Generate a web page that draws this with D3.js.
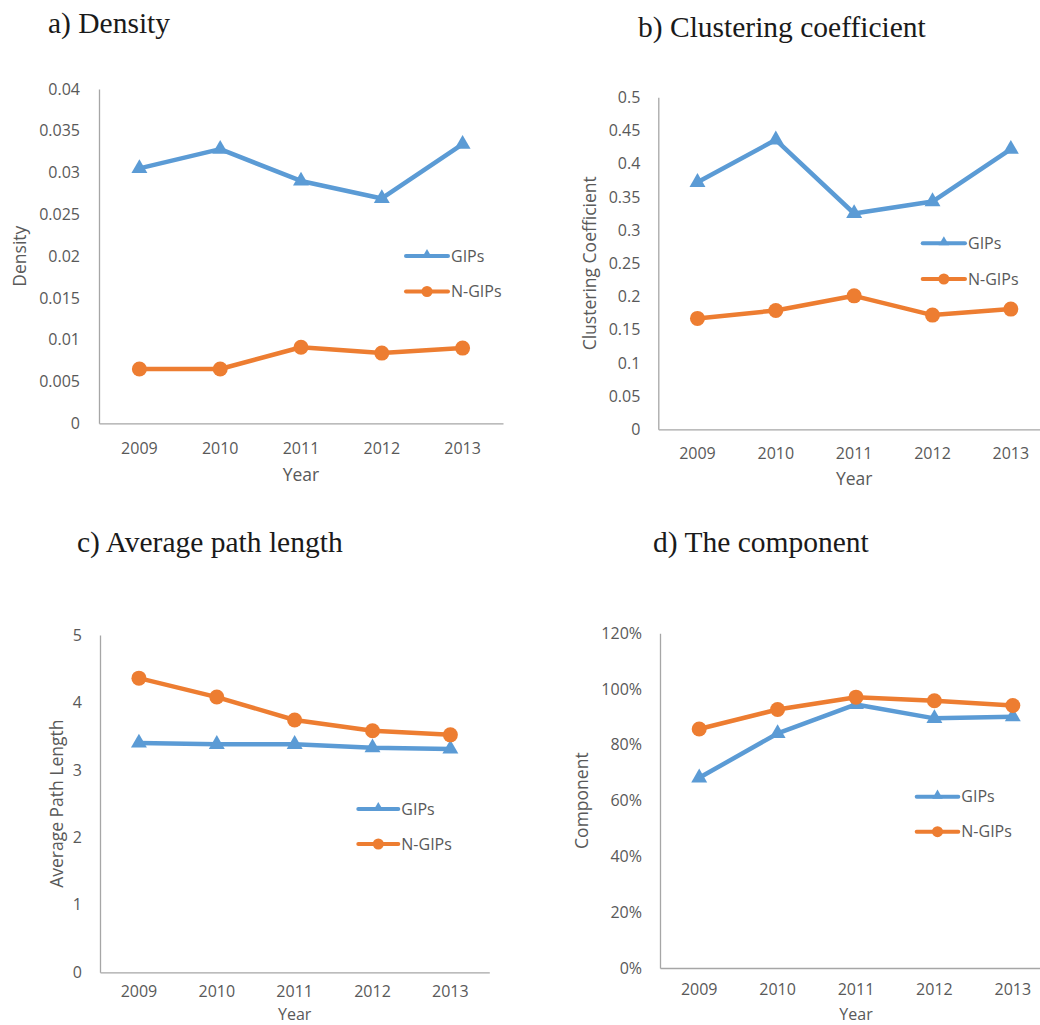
<!DOCTYPE html>
<html>
<head>
<meta charset="utf-8">
<script src="https://cdn.jsdelivr.net/npm/d3@7"></script>
<style>
  html, body { margin: 0; padding: 0; background: #fff; }
  svg { display: block; }
</style>
</head>
<body>
<svg id="chart" width="1040" height="1025"></svg>
<script>
// ---------- DATA ----------
const years = ["2009", "2010", "2011", "2012", "2013"];
const seriesNames = ["GIPs", "N-GIPs"];

const densityGIPs  = [0.0305, 0.0328, 0.0290, 0.0269, 0.0334];
const densityNGIPs = [0.0065, 0.0065, 0.0091, 0.0084, 0.0090];
const densityTicks = [0, 0.005, 0.01, 0.015, 0.02, 0.025, 0.03, 0.035, 0.04];
const densityTickLabels = ["0", "0.005", "0.01", "0.015", "0.02", "0.025", "0.03", "0.035", "0.04"];

const clusteringGIPs  = [0.372, 0.436, 0.325, 0.343, 0.422];
const clusteringNGIPs = [0.167, 0.179, 0.201, 0.172, 0.181];
const clusteringTicks = [0, 0.05, 0.1, 0.15, 0.2, 0.25, 0.3, 0.35, 0.4, 0.45, 0.5];
const clusteringTickLabels = ["0", "0.05", "0.1", "0.15", "0.2", "0.25", "0.3", "0.35", "0.4", "0.45", "0.5"];

const pathGIPs  = [3.40, 3.38, 3.38, 3.33, 3.31];
const pathNGIPs = [4.36, 4.08, 3.74, 3.58, 3.52];
const pathTicks = [0, 1, 2, 3, 4, 5];
const pathTickLabels = ["0", "1", "2", "3", "4", "5"];

const componentGIPs  = [0.682, 0.841, 0.945, 0.895, 0.901];
const componentNGIPs = [0.857, 0.927, 0.971, 0.958, 0.941];
const componentTicks = [0, 0.2, 0.4, 0.6, 0.8, 1.0, 1.2];
const componentTickLabels = ["0%", "20%", "40%", "60%", "80%", "100%", "120%"];

const titles = ["a) Density", "b) Clustering coefficient", "c) Average path length", "d) The component"];
const yTitles = ["Density", "Clustering Coefficient", "Average Path Length", "Component"];
const xTitle = "Year";

// ---------- STYLE / LAYOUT ----------
const colors = { "GIPs": "#5B9BD5", "N-GIPs": "#ED7D31" };
const textColor = "#595959";
const axisColor = "#A6A6A6";
const tickFont = "'Open Sans', sans-serif";
const titleFont = "'Liberation Serif', 'Times New Roman', serif";

const panels = [
  { gips: densityGIPs, ngips: densityNGIPs, ticks: densityTicks, labels: densityTickLabels,
    left: 99, right: 503, top: 89, bottom: 423.3,
    title: [48, 33], yTitleX: 20, yPad: 19, xPad: 19, xTitleY: 481, xTitleSize: 17.5,
    legX: [406, 448], legY: [256, 291.5] },
  { gips: clusteringGIPs, ngips: clusteringNGIPs, ticks: clusteringTicks, labels: clusteringTickLabels,
    left: 658.3, right: 1050, top: 97.3, bottom: 429.3,
    title: [638, 37], yTitleX: 590, yPad: 18, xPad: 18, xTitleY: 485, xTitleSize: 17.5,
    legX: [922.7, 965], legY: [243.3, 279] },
  { gips: pathGIPs, ngips: pathNGIPs, ticks: pathTicks, labels: pathTickLabels,
    left: 100, right: 489.3, top: 635, bottom: 972.3,
    title: [77, 552], yTitleX: 56.7, yPad: 18, xPad: 13.5, xTitleY: 1020.3, xTitleSize: 16,
    legX: [358.3, 398.3], legY: [809, 844] },
  { gips: componentGIPs, ngips: componentNGIPs, ticks: componentTicks, labels: componentTickLabels,
    left: 660, right: 1052, top: 633.3, bottom: 968,
    title: [653, 552], yTitleX: 581.7, yPad: 18, xPad: 15.5, xTitleY: 1020.3, xTitleSize: 16,
    legX: [916.7, 958.3], legY: [796.7, 831.7] }
];

const svg = d3.select("#chart");
const tri = d3.symbol().type(d3.symbolTriangle).size(110);
const triLeg = d3.symbol().type(d3.symbolTriangle).size(48);

panels.forEach((p, i) => {
  const g = svg.append("g");
  const x = d3.scaleBand().domain(years).range([p.left, p.right]);
  const yMax = p.ticks[p.ticks.length - 1];
  const y = d3.scaleLinear().domain([0, yMax]).range([p.bottom, p.top]);

  // title
  g.append("text")
    .attr("x", p.title[0]).attr("y", p.title[1])
    .attr("font-family", titleFont).attr("font-size", 29.5)
    .attr("fill", "#1a1a1a")
    .text(titles[i]);

  // y axis
  const yAxis = d3.axisLeft(y).tickValues(p.ticks)
    .tickFormat((d, k) => p.labels[k]).tickSize(0).tickPadding(p.yPad);
  const ya = g.append("g").attr("transform", `translate(${p.left},0)`).call(yAxis);
  ya.select(".domain").attr("stroke", axisColor).attr("stroke-width", 1.3);
  ya.selectAll("text").attr("font-family", tickFont).attr("font-size", 16).attr("fill", textColor);

  // x axis
  const xAxis = d3.axisBottom(x).tickSize(0).tickPadding(p.xPad);
  const xa = g.append("g").attr("transform", `translate(0,${p.bottom})`).call(xAxis);
  xa.select(".domain").attr("stroke", axisColor).attr("stroke-width", 1.3);
  xa.selectAll("text").attr("font-family", tickFont).attr("font-size", 16).attr("fill", textColor);

  // axis titles
  g.append("text")
    .attr("x", (p.left + p.right) / 2).attr("y", p.xTitleY)
    .attr("text-anchor", "middle")
    .attr("font-family", tickFont).attr("font-size", p.xTitleSize).attr("fill", textColor)
    .text(xTitle);
  g.append("text")
    .attr("transform", `translate(${p.yTitleX},${(p.top + p.bottom) / 2}) rotate(-90)`)
    .attr("text-anchor", "middle").attr("dy", "0.35em")
    .attr("font-family", tickFont).attr("font-size", 17.5).attr("fill", textColor)
    .text(yTitles[i]);

  const cx = d => x(d) + x.bandwidth() / 2;
  const line = d3.line().x(d => cx(d.year)).y(d => y(d.v));

  const series = [
    { name: "GIPs", vals: p.gips },
    { name: "N-GIPs", vals: p.ngips }
  ];
  series.forEach(s => {
    const pts = years.map((yr, k) => ({ year: yr, v: s.vals[k] }));
    g.append("path").datum(pts)
      .attr("d", line).attr("fill", "none")
      .attr("stroke", colors[s.name]).attr("stroke-width", 4.5)
      .attr("stroke-linejoin", "round").attr("stroke-linecap", "round");
    if (s.name === "GIPs") {
      g.selectAll(null).data(pts).enter().append("path")
        .attr("d", tri)
        .attr("transform", d => `translate(${cx(d.year)},${y(d.v)})`)
        .attr("fill", colors[s.name]);
    } else {
      g.selectAll(null).data(pts).enter().append("circle")
        .attr("cx", d => cx(d.year)).attr("cy", d => y(d.v)).attr("r", 7.5)
        .attr("fill", colors[s.name]);
    }
  });

  // legend
  seriesNames.forEach((name, k) => {
    const ly = p.legY[k];
    g.append("line")
      .attr("x1", p.legX[0]).attr("x2", p.legX[1]).attr("y1", ly).attr("y2", ly)
      .attr("stroke", colors[name]).attr("stroke-width", 4).attr("stroke-linecap", "round");
    const mx = (p.legX[0] + p.legX[1]) / 2;
    if (name === "GIPs") {
      g.append("path").attr("d", triLeg)
        .attr("transform", `translate(${mx},${ly - 1})`).attr("fill", colors[name]);
    } else {
      g.append("circle").attr("cx", mx).attr("cy", ly).attr("r", 5.5).attr("fill", colors[name]);
    }
    g.append("text")
      .attr("x", p.legX[1] + 3).attr("y", ly).attr("dy", "0.35em")
      .attr("font-family", tickFont).attr("font-size", 16).attr("fill", textColor)
      .text(name);
  });
});
</script>
</body>
</html>
